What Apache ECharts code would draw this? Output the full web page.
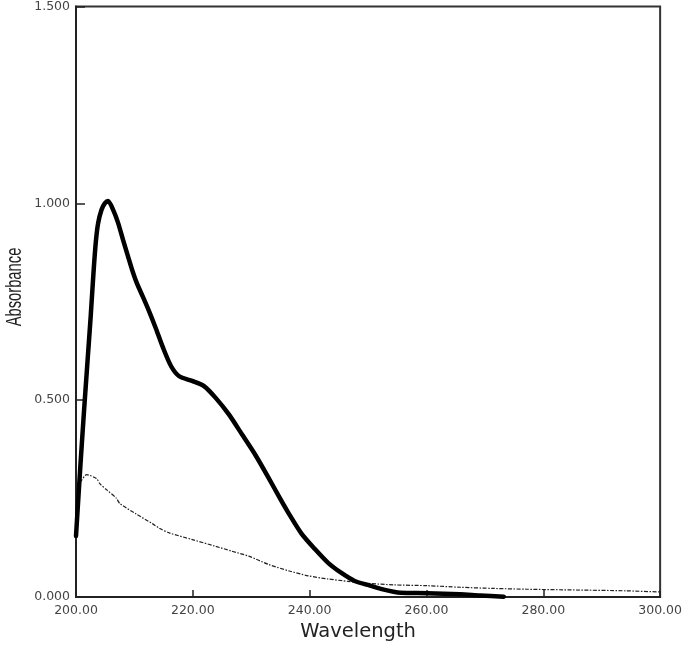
<!DOCTYPE html>
<html>
<head>
<meta charset="utf-8">
<script src="https://cdn.jsdelivr.net/npm/echarts@6/dist/echarts.min.js"></script>
<style>html,body{margin:0;padding:0;background:#fff}#c{width:685px;height:647px}</style>
</head>
<body>
<div id="c"></div>
<script>
// Wavelength (nm) / absorbance pairs
const sampleWavelength = [200.0, 200.5, 201.0, 201.5, 202.0, 202.5, 203.0, 203.4, 203.79, 204.37, 204.93, 205.49, 206.34, 207.19, 208.04, 208.89, 209.74, 210.45, 211.44, 212.57, 213.71, 214.83, 216.26, 217.67, 219.88, 221.92, 223.91, 226.17, 228.43, 230.71, 232.97, 234.95, 236.36, 238.57, 240.9, 243.16, 245.37, 247.7, 249.96, 252.17, 255.57, 260.15, 265.76, 269.16, 273.24];
const sampleAbsorbance = [0.155, 0.275, 0.39, 0.50, 0.605, 0.71, 0.825, 0.903, 0.950, 0.984, 1.000, 1.006, 0.984, 0.951, 0.908, 0.866, 0.825, 0.796, 0.763, 0.724, 0.681, 0.636, 0.587, 0.561, 0.549, 0.536, 0.506, 0.464, 0.413, 0.361, 0.303, 0.250, 0.214, 0.162, 0.122, 0.087, 0.062, 0.041, 0.031, 0.021, 0.011, 0.010, 0.007, 0.004, 0.001];

const blankWavelength = [200.0, 200.4, 200.97, 201.82, 203.52, 204.08, 205.22, 206.92, 207.48, 210.31, 213.14, 214.27, 215.97, 219.93, 223.91, 226.6, 229.57, 232.97, 236.36, 239.76, 243.16, 246.56, 249.96, 254.5, 260.15, 265.76, 271.49, 277.14, 285.6, 294.1, 300.0];
const blankAbsorbance = [0.25, 0.285, 0.297, 0.311, 0.301, 0.288, 0.273, 0.251, 0.238, 0.211, 0.186, 0.175, 0.163, 0.146, 0.129, 0.117, 0.104, 0.083, 0.067, 0.054, 0.046, 0.040, 0.035, 0.031, 0.029, 0.025, 0.022, 0.020, 0.018, 0.016, 0.013];

const xTicks = [200, 220, 240, 260, 280, 300];
const yTicks = [0, 0.5, 1.0, 1.5];
const xTitle = 'Wavelength';
const yTitle = 'Absorbance';

const zip = (xs, ys) => xs.map((x, i) => [x, ys[i]]);

const chart = echarts.init(document.getElementById('c'), null, {renderer: 'canvas'});
chart.setOption({
  animation: false,
  backgroundColor: '#fff',
  grid: {left: 76, top: 5, right: 19.5, bottom: 45.5, show: true, borderColor: '#333', borderWidth: 2, backgroundColor: 'transparent'},
  graphic: [{
    type: 'text', x: 15, y: 287, rotation: Math.PI / 2, scaleX: 0.67, scaleY: 1,
    style: {text: yTitle, fill: '#222', font: '22px "Liberation Sans", Arial, sans-serif', textAlign: 'center', textVerticalAlign: 'middle'}
  }],
  xAxis: {
    type: 'value', min: xTicks[0], max: xTicks[xTicks.length - 1], interval: 20,
    name: xTitle, nameLocation: 'middle', nameGap: 24,
    nameTextStyle: {fontFamily: 'DejaVu Sans', fontSize: 19.5, color: '#222', padding: [0, 20, 0, 0]},
    axisLine: {show: true, onZero: false, lineStyle: {color: '#222', width: 2}},
    axisTick: {show: true, inside: true, length: 7, lineStyle: {color: '#222', width: 1.5}},
    axisLabel: {formatter: v => v.toFixed(2), fontFamily: 'DejaVu Sans', fontSize: 12.5, color: '#444', margin: 7},
    splitLine: {show: false}
  },
  yAxis: {
    type: 'value', min: yTicks[0], max: yTicks[yTicks.length - 1], interval: 0.5,
    axisLine: {show: true, lineStyle: {color: '#222', width: 2}},
    axisTick: {show: true, inside: true, length: 9, lineStyle: {color: '#222', width: 1.5}},
    axisLabel: {formatter: v => v.toFixed(3), fontFamily: 'DejaVu Sans', fontSize: 12.5, color: '#444', margin: 6},
    splitLine: {show: false}
  },
  series: [
    {
      type: 'line', name: 'blank', data: zip(blankWavelength, blankAbsorbance),
      showSymbol: false, smooth: 0.25,
      lineStyle: {color: '#222', width: 1.2, type: [4, 1.5, 1.5, 1.5]}, z: 2
    },
    {
      type: 'line', name: 'sample', data: zip(sampleWavelength, sampleAbsorbance),
      showSymbol: false, smooth: 0.25,
      lineStyle: {color: '#000', width: 4.5, cap: 'round', join: 'round'}, z: 3
    }
  ]
});
</script>
</body>
</html>
